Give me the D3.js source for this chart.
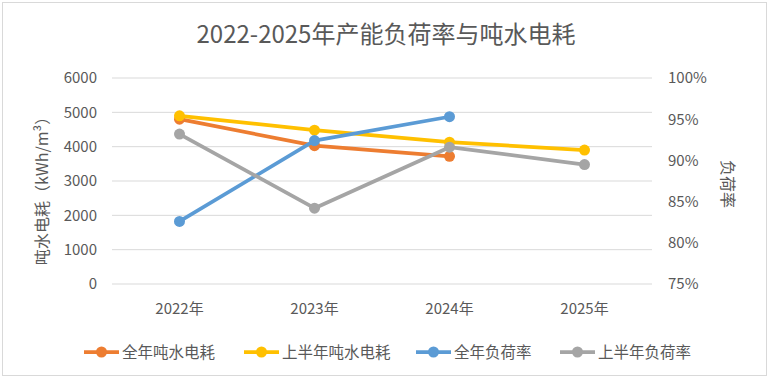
<!DOCTYPE html>
<html><head><meta charset="utf-8">
<script src="https://cdn.jsdelivr.net/npm/d3@7"></script>
<style>html,body{margin:0;padding:0;background:#fff;}svg{display:block;}</style>
</head><body>
<svg id="c" width="770" height="379"></svg>
<script>
const categories = ["2022年", "2023年", "2024年", "2025年"];
const fullYearPower = [4800, 4030, 3720, null];
const halfYearPower = [4900, 4480, 4130, 3900];
const fullYearLoad = [0.826, 0.924, 0.953, null];
const halfYearLoad = [0.932, 0.842, 0.916, 0.895];
const leftTicks = [0, 1000, 2000, 3000, 4000, 5000, 6000];
const rightTicks = [0.75, 0.80, 0.85, 0.90, 0.95, 1.00];
const seriesNames = ["全年吨水电耗", "上半年吨水电耗", "全年负荷率", "上半年负荷率"];
const colors = ["#ED7D31", "#FFC000", "#5B9BD5", "#A5A5A5"];

const font = "'Noto Sans CJK SC', 'Microsoft YaHei', sans-serif";
const svg = d3.select("#c");
svg.append("rect").attr("x", 2.5).attr("y", 2.5).attr("width", 764).attr("height", 373)
  .attr("fill", "#fff").attr("stroke", "#D9D9D9").attr("stroke-width", 1);

const L = 112, R = 652, T = 78, B = 284;
const x = d3.scaleBand().domain(categories).range([L, R]);
const yL = d3.scaleLinear().domain([0, 6000]).range([B, T]);
const yR = d3.scaleLinear().domain([0.75, 1.0]).range([B, T]);

// gridlines
svg.append("g").selectAll("line").data(leftTicks).join("line")
  .attr("x1", L).attr("x2", R).attr("y1", d => yL(d)).attr("y2", d => yL(d))
  .attr("stroke", "#D9D9D9").attr("stroke-width", 1);

// left axis
const ga = svg.append("g").attr("transform", `translate(${L},0)`)
  .call(d3.axisLeft(yL).tickValues(leftTicks).tickSize(0).tickPadding(15).tickFormat(d3.format("d")));
ga.select(".domain").remove();
ga.selectAll("text").attr("fill", "#595959").style("font-size", "15px").style("font-family", font);

// right axis
const gr = svg.append("g").attr("transform", `translate(${R},0)`)
  .call(d3.axisRight(yR).tickValues(rightTicks).tickSize(0).tickPadding(16).tickFormat(d3.format(".0%")));
gr.select(".domain").remove();
gr.selectAll("text").attr("fill", "#595959").style("font-size", "15px").style("font-family", font);

// bottom axis
const gb = svg.append("g").attr("transform", `translate(0,${B})`)
  .call(d3.axisBottom(x).tickSize(0).tickPadding(19));
gb.select(".domain").remove();
gb.selectAll("text").attr("fill", "#595959").style("font-size", "15px").style("font-family", font);

// title
svg.append("text").attr("x", 386).attr("y", 43).attr("text-anchor", "middle")
  .attr("fill", "#595959").style("font-size", "24px").style("font-family", font)
  .text("2022-2025年产能负荷率与吨水电耗");

// axis titles
svg.append("text").attr("transform", "translate(48,187) rotate(-90)").attr("text-anchor", "middle")
  .attr("fill", "#595959").style("font-size", "16px").style("font-family", font)
  .text("吨水电耗（kWh/m³）");
svg.append("text").attr("transform", "translate(722,184) rotate(90)").attr("text-anchor", "middle")
  .attr("fill", "#595959").style("font-size", "16px").style("font-family", font)
  .text("负荷率");

const cx = d => x(d) + x.bandwidth() / 2;
const series = [
  {vals: fullYearPower, y: yL},
  {vals: halfYearPower, y: yL},
  {vals: fullYearLoad, y: yR},
  {vals: halfYearLoad, y: yR}
];
series.forEach((s, i) => {
  const pts = categories.map((c, j) => ({c, v: s.vals[j]})).filter(p => p.v != null);
  const line = d3.line().x(p => cx(p.c)).y(p => s.y(p.v));
  svg.append("path").datum(pts).attr("d", line).attr("fill", "none")
    .attr("stroke", colors[i]).attr("stroke-width", 3.75).attr("stroke-linejoin", "round").attr("stroke-linecap", "round");
  svg.append("g").selectAll("circle").data(pts).join("circle")
    .attr("cx", p => cx(p.c)).attr("cy", p => s.y(p.v)).attr("r", 5.5).attr("fill", colors[i]);
});

// legend
const legX = [84, 244, 416, 560];
const lg = svg.append("g");
seriesNames.forEach((n, i) => {
  const g = lg.append("g").attr("transform", `translate(${legX[i]},352)`);
  g.append("line").attr("x1", 0).attr("x2", 35).attr("y1", 0).attr("y2", 0)
    .attr("stroke", colors[i]).attr("stroke-width", 3.75);
  g.append("circle").attr("cx", 17.5).attr("cy", 0).attr("r", 5.5).attr("fill", colors[i]);
  g.append("text").attr("x", 38).attr("y", 5.5).attr("fill", "#595959")
    .style("font-size", "15.5px").style("font-family", font).text(n);
});
</script>
</body></html>
